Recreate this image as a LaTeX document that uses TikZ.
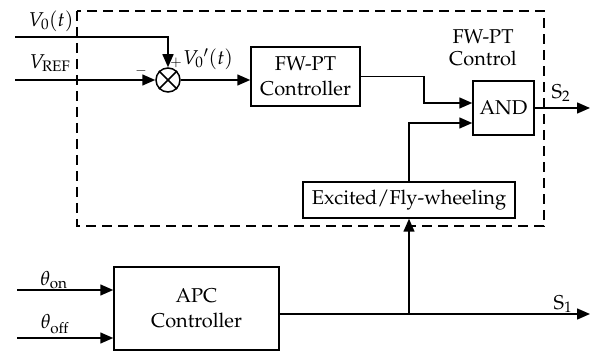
\documentclass[tikz,border=0pt]{standalone}
\usepackage[T1]{fontenc}
\usepackage{mathpazo}
\usepackage{amsmath}
\usetikzlibrary{arrows.meta,positioning}

\tikzset{
  block/.style={draw, line width=1.5pt, align=center, inner sep=0pt},
  arr/.style={line width=1.5pt, -{Triangle[length=13pt,width=11pt]}},
  line/.style={line width=1.5pt},
  frame/.style={line width=1.5pt, dash pattern=on 10pt off 6pt},
  lbl/.style={inner sep=0pt},
  sign/.style={inner sep=0pt, font=\fontsize{14}{16}\selectfont}
}

\begin{document}
\begin{tikzpicture}[x=1pt,y=-1pt,font=\fontsize{20}{25.5}\selectfont]
\useasboundingbox (0,0) rectangle (593,352);
% dashed FW-PT control region
\draw[frame] (77,11) rectangle (544,226);
\node[lbl,align=center,font=\fontsize{20}{22}\selectfont] (fwlbl) at (483,48) {FW-PT\\Control};

% blocks
\node[draw,circle,line width=1.5pt,minimum size=24pt,inner sep=0pt] (sum) at (168,80) {};
\draw[line] (sum.north west) -- (sum.south east);
\draw[line] (sum.north east) -- (sum.south west);
\node[block,minimum width=109pt,minimum height=59pt] (ctrl) at (305.5,76.5) {FW-PT\\Controller};
\node[block,minimum width=61pt,minimum height=54pt] (and) at (503.5,108) {AND};
\node[block,minimum width=212pt,minimum height=36pt] (exc) at (409,200) {Excited/Fly-wheeling};
\node[block,minimum width=165pt,minimum height=83pt] (apc) at (196.5,308.5) {APC\\Controller};

% inputs and outputs
\coordinate (v0in) at (15,37);
\coordinate (vrefin) at (15,80);
\coordinate (onin) at (17,290);
\coordinate (offin) at (17,338);
\coordinate (s2out) at (590,108);
\coordinate (s1out) at (590,314);
\coordinate (split) at (exc.south |- s1out);

\draw[arr] (v0in) -| (sum.north);
\draw[arr] (vrefin) -- (sum.west);
\draw[arr] (sum.east) -- (sum.east -| ctrl.west);
\draw[arr] (ctrl.east) -- ++(63,0) |- ([yshift=5pt]and.west);
\draw[arr] (exc.north) |- ([yshift=-15pt]and.west);
\draw[arr] (and.east) -- (s2out);
\draw[arr] (onin) -- (onin -| apc.west);
\draw[arr] (offin) -- (offin -| apc.west);
\draw[arr] ([yshift=-5.5pt]apc.east) -- (s1out);
\draw[arr] (split) -- (exc.south);

% labels
\node[lbl] (v0lbl) at (51,21) {$V_{\mathrm{0}}(t)$};
\node[lbl] (vreflbl) at (50,63) {$V_{\mathrm{REF}}$};
\node[sign] (minus) at (141,71) {$-$};
\node[sign] (plus) at (176,63) {$+$};
\node[lbl] (v0plbl) at (208,59) {$V_{\mathrm{0}}{}'(t)$};
\node[lbl] (onlbl) at (54,280) {$\theta_{\mathrm{on}}$};
\node[lbl] (offlbl) at (55,324) {$\theta_{\mathrm{off}}$};
\node[lbl] (s2lbl) at (561,93) {S$_2$};
\node[lbl] (s1lbl) at (563,304) {S$_1$};
\end{tikzpicture}
\end{document}
